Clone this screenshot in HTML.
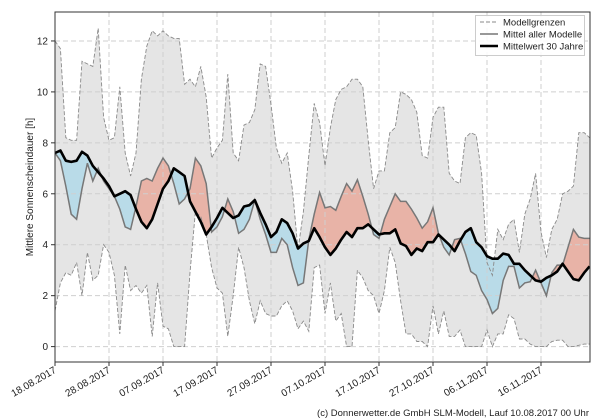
<!DOCTYPE html>
<html><head><meta charset="utf-8"><style>
html,body{margin:0;padding:0;background:#fff;}
svg{display:block;font-family:"Liberation Sans","DejaVu Sans",sans-serif;}
</style></head><body>
<svg id="c" width="600" height="420" xmlns="http://www.w3.org/2000/svg"></svg>
<script>
const up=[12,11.7,8.2,8.1,8.1,11.2,11.1,11.0,12.5,9,8.1,8.2,10.2,7.6,6.7,7.6,10.5,11.8,12.4,12.2,12.4,12.2,12.1,12.1,10.3,10.5,10.2,11,9.8,7.4,7.8,8.1,10.7,7.6,7.3,8.7,8.8,9.3,11.1,11.0,9.5,7.8,7.2,7.6,6.1,3.8,5.3,7.5,9.55,8.8,7.1,8.6,9.7,10.1,10.2,10.5,10.5,10.2,8.1,6.2,6.9,6.9,8.4,8.6,10.0,9.9,9.7,9.2,7.5,7.4,9.0,9.4,9.4,6.8,6.5,6.4,8.2,8.4,8.3,6.8,3.3,2.8,4.6,4.2,4.8,5.0,3.7,5.2,5.8,6.8,4.5,3.5,4.6,5.0,6.0,6.1,6.3,8.4,8.4,8.2];
const lo=[1.4,2.5,2.9,2.8,3.3,2.0,3.7,2.6,2.8,4.0,3.7,2.8,0.5,3.2,2.2,2.4,2.1,2.4,0.4,2.5,0.8,0.7,0,0,0,2.9,5.3,5.1,4.4,3.1,2.3,2.1,0.4,2.0,3.9,3.1,1.8,0.9,1.8,1.3,1.2,1.2,1.6,1.8,1.4,0.7,1.0,0.6,3.1,3.2,1.3,2.5,1.0,1.3,0,0,3.0,2.7,2.2,2.0,1.3,2.2,3.9,3.3,1.8,0.5,0.5,0.2,0.2,0,1.6,0.5,1.4,0.4,0.4,0.65,0,0,0,0,0.65,0,0.5,0.5,1.25,1.1,0.3,0.3,0.1,0,0,0,0.2,0.25,0.25,0,0,0.05,0.1,0.1];
const mm=[7.6,7.3,6.3,5.2,5.0,6.2,7.2,6.5,7.0,6.5,6.2,5.9,5.4,4.7,4.6,5.5,6.5,6.6,6.5,7.0,7.4,7.1,6.4,5.6,5.8,6.2,7.4,7.1,6.4,4.5,4.7,5.1,5.8,5.3,4.45,4.6,5.0,5.75,5.0,4.4,3.7,3.7,4.25,4.0,3.1,2.4,2.5,4.2,5.2,6.05,5.45,5.5,5.35,5.9,6.4,6.1,6.55,5.9,5.2,4.4,4.25,5.0,5.5,6.0,5.7,5.7,5.4,5.05,4.65,4.9,5.45,4.45,3.9,3.6,4.2,4.25,3.65,2.95,2.8,2.2,1.85,1.3,1.5,2.6,3.15,3.15,2.3,2.5,2.55,3.0,2.5,2.0,2.9,3.2,3.2,3.9,4.6,4.3,4.25,4.25];
const bk=[7.6,7.7,7.3,7.25,7.3,7.65,7.5,7.1,6.85,6.6,6.3,5.9,6.0,6.1,5.95,5.4,4.9,4.65,5.0,5.6,6.2,6.5,7.0,6.85,6.7,5.7,5.3,4.9,4.4,4.7,5.05,5.45,5.25,5.05,5.15,5.5,5.55,5.75,5.25,4.8,4.3,4.5,5.0,4.85,4.45,3.85,4.05,4.15,4.65,4.3,3.9,3.6,3.85,4.2,4.5,4.3,4.65,4.65,4.8,4.6,4.4,4.45,4.45,4.6,4.05,3.95,3.6,3.85,3.75,4.1,4.1,4.4,4.2,4.0,3.75,4.15,4.5,4.65,4.1,3.9,3.55,3.45,3.45,3.65,3.6,3.25,3.25,3.0,2.8,2.6,2.55,2.7,2.8,2.95,3.25,2.95,2.65,2.6,2.9,3.15];
const X=d=>55+5.4*d, Y=v=>346.6-25.47*v;
const pts=a=>a.map((v,i)=>X(i).toFixed(1)+','+Y(v).toFixed(1));
const rev=a=>pts(a).reverse();
let s='';
s+=`<defs><clipPath id="pa"><rect x="55" y="12" width="535" height="350"/></clipPath>
<clipPath id="ab"><polygon points="${pts(bk).join(' ')} 590,0 55,0"/></clipPath>
<clipPath id="be"><polygon points="${pts(bk).join(' ')} 590,420 55,420"/></clipPath></defs>`;
s+=`<g clip-path="url(#pa)">`;
s+=`<polygon points="${pts(up).concat(rev(lo)).join(' ')}" fill="#e5e5e5"/>`;
const band=pts(mm).concat(rev(bk)).join(' ');
s+=`<polygon points="${band}" fill="#e8b3a7" clip-path="url(#ab)"/>`;
s+=`<polygon points="${band}" fill="#b9dbe8" clip-path="url(#be)"/>`;
// grid
for(let v=0;v<=12;v+=2)s+=`<line x1="55" x2="590" y1="${Y(v)}" y2="${Y(v)}" stroke="#cfcfcf" stroke-width="1" stroke-dasharray="5,3"/>`;
for(let k=1;k<10;k++)s+=`<line y1="12" y2="362" x1="${X(10*k)}" x2="${X(10*k)}" stroke="#cfcfcf" stroke-width="1" stroke-dasharray="5,3"/>`;
s+=`<polyline points="${pts(up).join(' ')}" fill="none" stroke="#8a8a8a" stroke-width="0.9" stroke-dasharray="4,2"/>`;
s+=`<polyline points="${pts(lo).join(' ')}" fill="none" stroke="#8a8a8a" stroke-width="0.9" stroke-dasharray="4,2"/>`;
s+=`<polyline points="${pts(mm).join(' ')}" fill="none" stroke="#777" stroke-width="1.5"/>`;
s+=`<polyline points="${pts(bk).join(' ')}" fill="none" stroke="#000" stroke-width="2.6" stroke-linejoin="round"/>`;
s+=`</g>`;
s+=`<rect x="55" y="12" width="535" height="350" fill="none" stroke="#333" stroke-width="1"/>`;
for(let v=0;v<=12;v+=2){s+=`<line x1="51" x2="55" y1="${Y(v)}" y2="${Y(v)}" stroke="#333"/><text x="48" y="${Y(v)+3.5}" font-size="10" text-anchor="end" fill="#222">${v}</text>`;}
const lab=['18.08.2017','28.08.2017','07.09.2017','17.09.2017','27.09.2017','07.10.2017','17.10.2017','27.10.2017','06.11.2017','16.11.2017'];
lab.forEach((t,k)=>{const x=X(10*k);s+=`<line x1="${x}" x2="${x}" y1="362" y2="366" stroke="#333"/><text transform="translate(${x+2},372) rotate(-30)" font-size="10" text-anchor="end" fill="#222">${t}</text>`;});
s+=`<text transform="translate(33,187) rotate(-90)" font-size="10" text-anchor="middle" fill="#222">Mittlere Sonnenscheindauer [h]</text>`;
s+=`<rect x="475.5" y="15.5" width="109" height="40" fill="#fff" fill-opacity="0.85" stroke="#ccc"/>`;
s+=`<line x1="480" x2="498" y1="22" y2="22" stroke="#8a8a8a" stroke-dasharray="4,2"/><text x="503" y="25.5" font-size="9.5" fill="#222">Modellgrenzen</text>`;
s+=`<line x1="480" x2="498" y1="34" y2="34" stroke="#777" stroke-width="1.5"/><text x="503" y="37.5" font-size="9.5" fill="#222">Mittel aller Modelle</text>`;
s+=`<line x1="480" x2="498" y1="46" y2="46" stroke="#000" stroke-width="2.6"/><text x="503" y="49.5" font-size="9.5" fill="#222">Mittelwert 30 Jahre</text>`;
s+=`<text x="589" y="416" font-size="9.5" text-anchor="end" fill="#222">(c) Donnerwetter.de GmbH SLM-Modell, Lauf 10.08.2017 00 Uhr</text>`;
document.getElementById('c').innerHTML=s;
</script>
</body></html>
